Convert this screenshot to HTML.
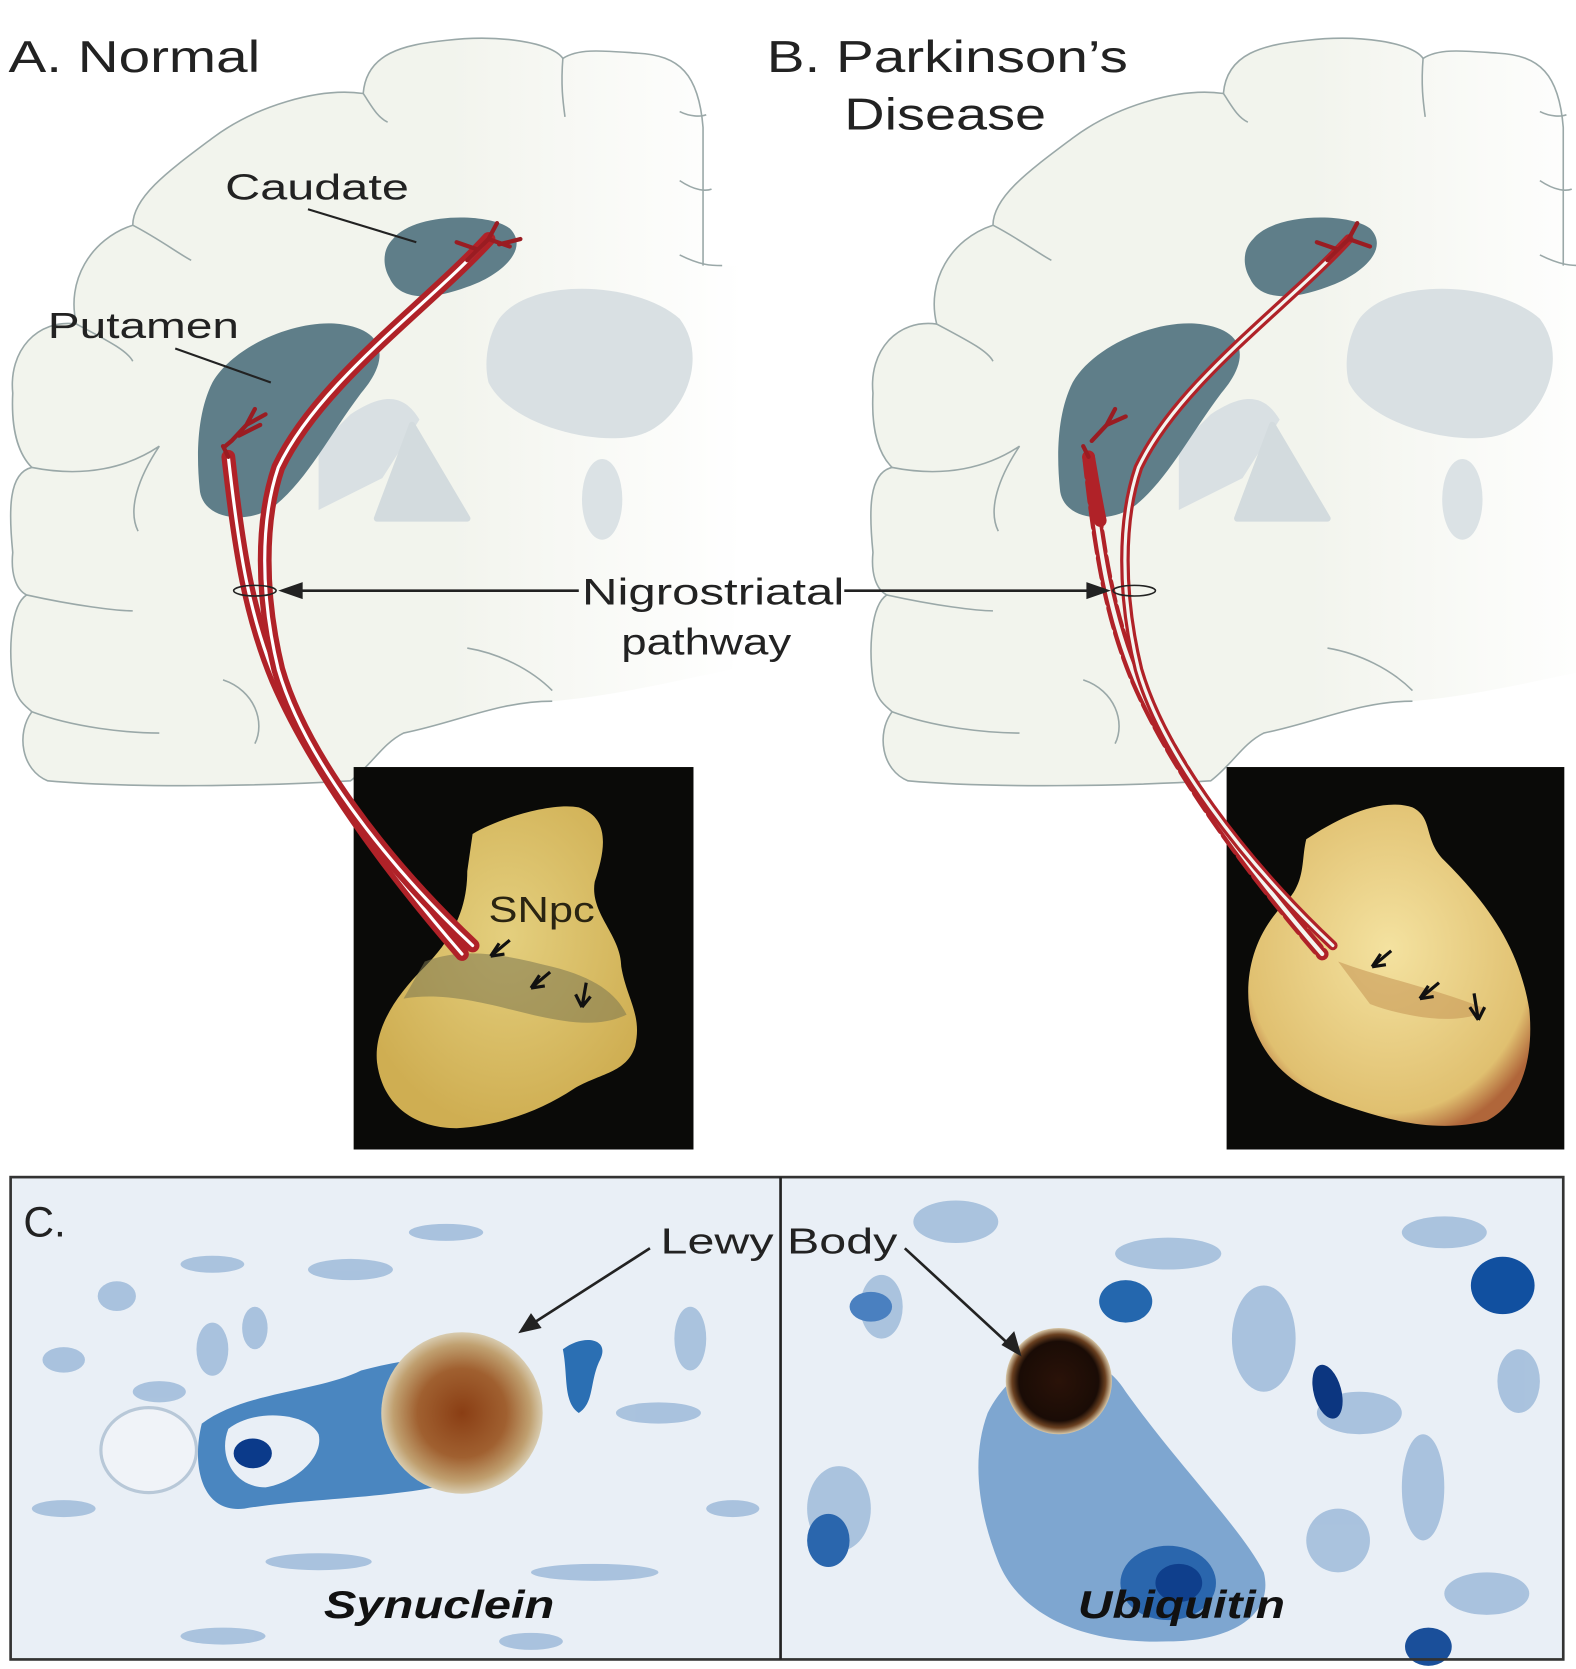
<!DOCTYPE html>
<html><head><meta charset="utf-8"><style>
html,body{margin:0;padding:0;background:#fff;}
svg{display:block;}
text{font-family:"Liberation Sans",sans-serif;}
</style></head><body>
<svg width="1576" height="1669" viewBox="0 0 1484 1571" preserveAspectRatio="none" xmlns="http://www.w3.org/2000/svg">
<defs>
<linearGradient id="brainfade" x1="0" y1="0" x2="1" y2="0">
<stop offset="0.6" stop-color="#f2f4ed"/><stop offset="1" stop-color="#ffffff"/>
</linearGradient>
<radialGradient id="tissA" cx="0.5" cy="0.4" r="0.6">
<stop offset="0" stop-color="#e4cf7e"/><stop offset="1" stop-color="#cfae52"/>
</radialGradient>
<radialGradient id="tissB" cx="0.5" cy="0.45" r="0.6">
<stop offset="0" stop-color="#f4e2a0"/><stop offset="0.85" stop-color="#e0c070"/><stop offset="1" stop-color="#b0663a"/>
</radialGradient>
<radialGradient id="lewy1" cx="0.5" cy="0.5" r="0.5">
<stop offset="0" stop-color="#8a3e14"/><stop offset="0.55" stop-color="#a06030"/><stop offset="0.85" stop-color="#c0a070"/><stop offset="1" stop-color="#d8ccb0"/>
</radialGradient>
<radialGradient id="lewy2" cx="0.5" cy="0.5" r="0.5">
<stop offset="0" stop-color="#2a1208"/><stop offset="0.75" stop-color="#1a0c06"/><stop offset="0.88" stop-color="#6a4020"/><stop offset="1" stop-color="#d8c8a8"/>
</radialGradient>
<g id="brain">
<path d="M662 250 L662 120 C658 70 640 52 600 50 C570 48 545 45 530 55 C520 40 470 32 420 38 C380 42 345 50 342 88 C300 82 240 100 200 130 C160 160 125 185 125 212 C85 225 62 265 72 305 C35 300 8 330 12 370 C10 410 20 430 30 440 C8 445 8 480 12 520 C10 540 15 555 25 560 C10 570 8 610 12 640 C15 660 25 665 30 670 C15 690 20 725 45 735 C120 742 250 740 330 735 C350 720 360 700 380 690 C430 680 470 660 520 660 C580 655 640 640 690 630 L700 250 Z" fill="url(#brainfade)"/>
<path d="M662 250 L662 120 C658 70 640 52 600 50 C570 48 545 45 530 55 C520 40 470 32 420 38 C380 42 345 50 342 88 C300 82 240 100 200 130 C160 160 125 185 125 212 C85 225 62 265 72 305 C35 300 8 330 12 370 C10 410 20 430 30 440 C8 445 8 480 12 520 C10 540 15 555 25 560 C10 570 8 610 12 640 C15 660 25 665 30 670 C15 690 20 725 45 735 C120 742 250 740 330 735 C350 720 360 700 380 690 C430 680 470 660 520 660" fill="none" stroke="#9aa8a8" stroke-width="1.5"/>
<g fill="none" stroke="#9aa8a8" stroke-width="1.5">
<path d="M530 55 C528 80 530 95 532 110"/>
<path d="M342 88 C350 100 355 110 365 115"/>
<path d="M125 212 C150 225 170 240 180 245"/>
<path d="M72 305 C100 320 120 330 125 340"/>
<path d="M30 440 C80 450 120 440 150 420 C130 450 120 480 130 500"/>
<path d="M25 560 C70 570 110 575 125 575"/>
<path d="M30 670 C70 685 120 690 150 690"/>
<path d="M210 640 C240 650 250 680 240 700"/>
<path d="M440 610 C470 615 500 630 520 650"/>
<path d="M640 105 C650 110 660 110 665 108"/>
<path d="M640 170 C655 180 665 180 670 178"/>
<path d="M640 240 C660 250 670 250 680 250"/>
</g>
<path d="M470 300 C500 260 600 265 640 300 C670 340 640 400 600 410 C560 420 480 400 460 360 C455 340 460 315 470 300 Z" fill="#d9e0e3"/>
<path d="M330 390 C360 370 380 370 395 395 L360 450 L300 480 L300 420 Z" fill="#d9e0e3"/>
<path d="M388 400 L440 488 L355 488 Z" fill="#d3dbde" stroke="#d3dbde" stroke-width="6" stroke-linejoin="round"/>
<ellipse cx="567" cy="470" rx="19" ry="38" fill="#dbe2e5"/>
<path d="M370 225 C390 200 460 200 480 215 C500 235 470 260 440 270 C400 285 375 280 367 262 C360 250 360 235 370 225 Z" fill="#5f7e89"/>
<path d="M200 360 C220 325 280 300 320 305 C360 310 370 335 340 370 C310 410 290 450 260 475 C235 495 190 490 188 460 C185 430 185 390 200 360 Z" fill="#5f7e89"/>
</g>
</defs>

<text x="8" y="68" font-size="42" fill="#222" textLength="237" lengthAdjust="spacingAndGlyphs">A. Normal</text>
<text x="722" y="68" font-size="42" fill="#222" textLength="340" lengthAdjust="spacingAndGlyphs">B. Parkinson’s</text>
<text x="795" y="122" font-size="42" fill="#222" textLength="190" lengthAdjust="spacingAndGlyphs">Disease</text>

<use href="#brain"/>
<use href="#brain" x="810"/>

<text x="212" y="188" font-size="34" fill="#222" textLength="173" lengthAdjust="spacingAndGlyphs">Caudate</text>
<line x1="290" y1="197" x2="392" y2="228" stroke="#222" stroke-width="2"/>
<text x="45" y="318" font-size="34" fill="#222" textLength="180" lengthAdjust="spacingAndGlyphs">Putamen</text>
<line x1="165" y1="328" x2="255" y2="360" stroke="#222" stroke-width="2"/>

<rect x="333" y="722" width="320" height="360" fill="#0a0a08"/>
<path d="M445 785 C470 770 520 755 545 760 C575 770 570 800 560 830 C555 860 585 880 585 910 C590 940 605 955 598 985 C590 1010 565 1010 540 1025 C510 1045 470 1060 430 1062 C390 1062 360 1040 355 1000 C352 970 370 940 400 910 C430 880 440 850 440 820 Z" fill="url(#tissA)"/>
<path d="M400 905 C440 890 480 900 520 910 C560 920 580 935 590 955 C560 970 520 960 480 950 C440 940 410 935 380 940 Z" fill="#7c7650" opacity="0.55"/>
<text x="460" y="868" font-size="34" fill="#2a2412" textLength="100" lengthAdjust="spacingAndGlyphs">SNpc</text>
<rect x="1155" y="722" width="318" height="360" fill="#0a0a08"/>
<path d="M1230 790 C1260 770 1300 750 1330 760 C1350 770 1340 790 1360 810 C1400 850 1430 890 1440 950 C1445 1000 1430 1040 1400 1055 C1360 1065 1320 1058 1280 1045 C1230 1030 1195 1010 1178 960 C1170 920 1180 880 1210 850 C1230 830 1225 810 1230 790 Z" fill="url(#tissB)"/>
<path d="M1260 905 C1300 920 1350 930 1400 950 C1380 965 1330 960 1290 945 Z" fill="#c89a58" opacity="0.6"/>

<g fill="none" stroke-linecap="round">
<path d="M215 430 C225 520 235 580 260 640 C290 710 350 800 435 898" stroke="#b02228" stroke-width="13"/>
<path d="M215 430 C225 520 235 580 260 640 C290 710 350 800 435 898" stroke="#fff" stroke-width="3"/>
<path d="M460 225 C400 290 300 360 262 440 C245 490 245 560 262 630 C285 710 360 810 445 890" stroke="#b02228" stroke-width="13"/>
<path d="M460 225 C400 290 300 360 262 440 C245 490 245 560 262 630 C285 710 360 810 445 890" stroke="#fff" stroke-width="3"/>
<g stroke="#9a1c22" stroke-width="4">
<path d="M215 430 L210 420 M218 415 L232 400 L240 385 M232 400 L250 390 M225 410 L245 400 M218 415 L212 420"/>
<path d="M440 245 L460 225 L480 232 M460 225 L468 210 M450 235 L430 228 M470 230 L490 225"/>
</g>
</g>
<g fill="none" stroke-linecap="round">
<path d="M1025 430 C1035 520 1045 580 1070 640 C1100 710 1160 800 1245 898" stroke="#b02228" stroke-width="12" stroke-dasharray="18 6"/>
<path d="M1025 430 C1035 520 1045 580 1070 640 C1100 710 1160 800 1245 898" stroke="#f4f5f0" stroke-width="4"/>
<path d="M1025 430 C1030 460 1033 475 1036 490" stroke="#b02228" stroke-width="12"/>
<path d="M1270 225 C1210 290 1110 360 1072 440 C1055 490 1055 560 1072 630 C1095 710 1170 810 1255 890" stroke="#b02228" stroke-width="9"/>
<path d="M1270 225 C1210 290 1110 360 1072 440 C1055 490 1055 560 1072 630 C1095 710 1170 810 1255 890" stroke="#f4f5f0" stroke-width="3"/>
<g stroke="#9a1c22" stroke-width="4">
<path d="M1025 430 L1020 420 M1028 415 L1042 400 L1050 385 M1042 400 L1060 392"/>
<path d="M1250 245 L1270 225 L1290 232 M1270 225 L1278 210 M1260 235 L1240 228"/>
</g>
</g>
<g stroke="#111" stroke-width="3" fill="none">
<path d="M480 885 L462 900 M462 900 L470 888 M462 900 L475 898"/>
<path d="M518 915 L500 930 M500 930 L508 918 M500 930 L513 928"/>
<path d="M552 925 L548 948 M548 948 L542 936 M548 948 L556 938"/>
<path d="M1310 895 L1292 910 M1292 910 L1300 898 M1292 910 L1305 908"/>
<path d="M1355 925 L1337 940 M1337 940 L1345 928 M1337 940 L1350 938"/>
<path d="M1388 935 L1392 960 M1392 960 L1384 948 M1392 960 L1398 948"/>
</g>

<ellipse cx="240" cy="556" rx="20" ry="5" fill="none" stroke="#222" stroke-width="1.5"/>
<ellipse cx="1068" cy="556" rx="20" ry="5" fill="none" stroke="#222" stroke-width="1.5"/>
<line x1="268" y1="556" x2="545" y2="556" stroke="#222" stroke-width="2.5"/>
<path d="M262 556 L285 548 L285 564 Z" fill="#222"/>
<line x1="795" y1="556" x2="1040" y2="556" stroke="#222" stroke-width="2.5"/>
<path d="M1046 556 L1023 548 L1023 564 Z" fill="#222"/>
<text x="548" y="569" font-size="35" fill="#222" textLength="247" lengthAdjust="spacingAndGlyphs">Nigrostriatal</text>
<text x="585" y="616" font-size="35" fill="#222" textLength="160" lengthAdjust="spacingAndGlyphs">pathway</text>

<rect x="10" y="1108" width="1462" height="454" fill="#e9eff6"/>
<g fill="#8fb0d4" opacity="0.7">
<ellipse cx="60" cy="1280" rx="20" ry="12"/><ellipse cx="110" cy="1220" rx="18" ry="14"/>
<ellipse cx="150" cy="1310" rx="25" ry="10"/><ellipse cx="200" cy="1270" rx="15" ry="25"/>
<ellipse cx="240" cy="1250" rx="12" ry="20"/><ellipse cx="200" cy="1190" rx="30" ry="8"/>
<ellipse cx="330" cy="1195" rx="40" ry="10"/><ellipse cx="420" cy="1160" rx="35" ry="8"/>
<ellipse cx="60" cy="1420" rx="30" ry="8"/><ellipse cx="300" cy="1470" rx="50" ry="8"/>
<ellipse cx="620" cy="1330" rx="40" ry="10"/><ellipse cx="650" cy="1260" rx="15" ry="30"/>
<ellipse cx="690" cy="1420" rx="25" ry="8"/><ellipse cx="560" cy="1480" rx="60" ry="8"/>
<ellipse cx="210" cy="1540" rx="40" ry="8"/><ellipse cx="500" cy="1545" rx="30" ry="8"/>
<ellipse cx="790" cy="1420" rx="30" ry="40"/><ellipse cx="830" cy="1230" rx="20" ry="30"/>
<ellipse cx="1190" cy="1260" rx="30" ry="50"/><ellipse cx="1280" cy="1330" rx="40" ry="20"/>
<ellipse cx="1340" cy="1400" rx="20" ry="50"/><ellipse cx="1260" cy="1450" rx="30" ry="30"/>
<ellipse cx="1430" cy="1300" rx="20" ry="30"/><ellipse cx="1150" cy="1500" rx="30" ry="15"/>
<ellipse cx="1400" cy="1500" rx="40" ry="20"/><ellipse cx="900" cy="1150" rx="40" ry="20"/>
<ellipse cx="1100" cy="1180" rx="50" ry="15"/><ellipse cx="1360" cy="1160" rx="40" ry="15"/>
</g>
<path d="M190 1340 C230 1310 300 1310 340 1290 C380 1280 420 1270 460 1300 C480 1330 470 1380 430 1395 C380 1410 290 1410 230 1420 C190 1425 180 1380 190 1340 Z" fill="#4a86c0"/>
<path d="M215 1345 C240 1325 290 1330 300 1350 C305 1370 280 1395 250 1400 C220 1400 205 1370 215 1345 Z" fill="#e9eff6"/>
<ellipse cx="238" cy="1368" rx="18" ry="14" fill="#0b3a8a"/>
<ellipse cx="140" cy="1365" rx="45" ry="40" fill="#f0f3f8" stroke="#b8c8d8" stroke-width="3"/>
<path d="M530 1270 C550 1255 575 1260 565 1280 C555 1300 560 1320 545 1330 C530 1320 535 1295 530 1270 Z" fill="#2b6fb3"/>
<circle cx="435" cy="1330" r="76" fill="url(#lewy1)"/>
<path d="M930 1330 C960 1270 1030 1260 1060 1310 C1110 1380 1170 1440 1190 1480 C1200 1520 1160 1545 1100 1545 C1020 1548 960 1520 940 1470 C920 1420 915 1370 930 1330 Z" fill="#7ea6d0"/>
<ellipse cx="1100" cy="1490" rx="45" ry="35" fill="#2a66ad"/>
<ellipse cx="1110" cy="1490" rx="22" ry="18" fill="#0f3f8c"/>
<ellipse cx="1060" cy="1225" rx="25" ry="20" fill="#2467ae"/>
<ellipse cx="1415" cy="1210" rx="30" ry="27" fill="#1150a0"/>
<ellipse cx="1250" cy="1310" rx="13" ry="26" fill="#0c3680" transform="rotate(-15 1250 1310)"/>
<ellipse cx="1345" cy="1550" rx="22" ry="18" fill="#1a4f9a"/>
<ellipse cx="780" cy="1450" rx="20" ry="25" fill="#2a66ad"/>
<ellipse cx="820" cy="1230" rx="20" ry="14" fill="#4a80c0"/>
<circle cx="997" cy="1300" r="50" fill="url(#lewy2)"/>
<rect x="10" y="1108" width="1462" height="454" fill="none" stroke="#333" stroke-width="2.5"/>
<line x1="735" y1="1108" x2="735" y2="1562" stroke="#222" stroke-width="2.5"/>
<text x="22" y="1164" font-size="40" fill="#222" textLength="40" lengthAdjust="spacingAndGlyphs">C.</text>
<text x="622" y="1180" font-size="34" fill="#222" textLength="223" lengthAdjust="spacingAndGlyphs">Lewy Body</text>
<line x1="612" y1="1175" x2="495" y2="1250" stroke="#222" stroke-width="2.5"/>
<path d="M488 1255 L500 1236 L510 1250 Z" fill="#222"/>
<line x1="852" y1="1175" x2="955" y2="1270" stroke="#222" stroke-width="2.5"/>
<path d="M962 1277 L943 1266 L955 1253 Z" fill="#222"/>
<text x="305" y="1523" font-size="37" font-weight="bold" font-style="italic" fill="#111" textLength="217" lengthAdjust="spacingAndGlyphs">Synuclein</text>
<text x="1015" y="1523" font-size="37" font-weight="bold" font-style="italic" fill="#111" textLength="195" lengthAdjust="spacingAndGlyphs">Ubiquitin</text>
</svg>
</body></html>
